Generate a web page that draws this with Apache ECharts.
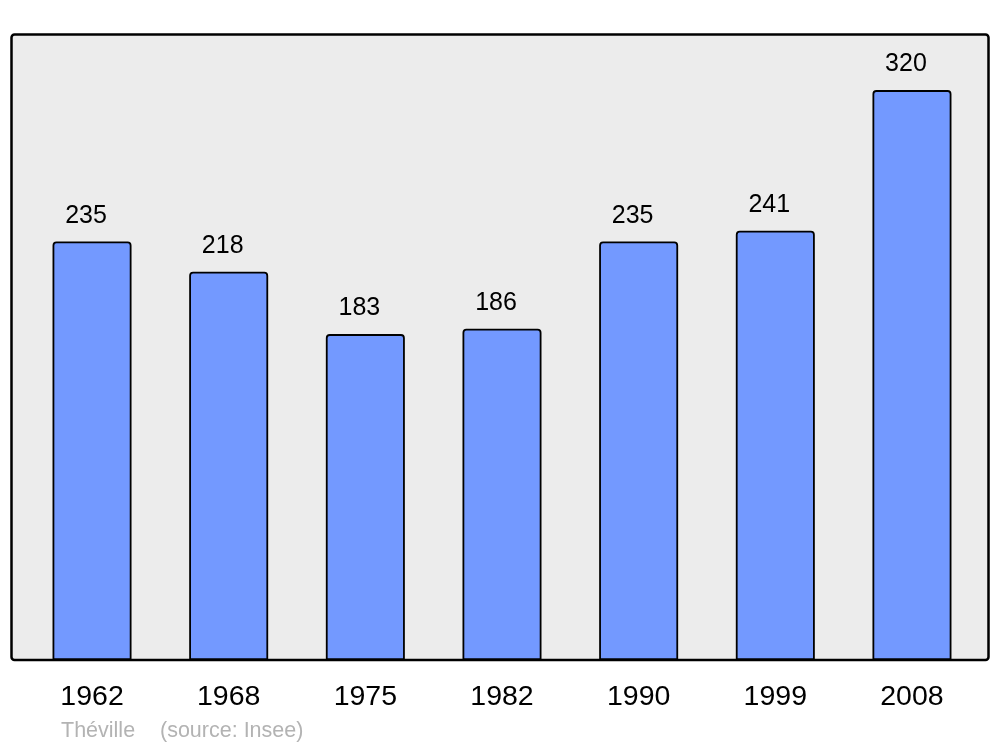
<!DOCTYPE html>
<html>
<head>
<meta charset="utf-8">
<script src="https://cdn.jsdelivr.net/npm/echarts@6/dist/echarts.min.js"></script>
<style>html,body{margin:0;padding:0;background:#fff}#c{width:1000px;height:747px}</style>
</head>
<body>
<div id="c"></div>
<script>
const years = ['1962','1968','1975','1982','1990','1999','2008'];
const population = [235, 218, 183, 186, 235, 241, 320];
const footerPlace = 'Théville';
const footerSource = '(source: Insee)';

const chart = echarts.init(document.getElementById('c'), null, {renderer: 'canvas'});
chart.setOption({
  animation: false,
  backgroundColor: '#ffffff',
  grid: {left: 23.7, right: 19.7, top: 34, bottom: 87, containLabel: false},
  graphic: [
    {type: 'rect', z: -10, shape: {x: 11.5, y: 34.5, width: 977, height: 625.5, r: 3},
     style: {fill: '#ececec', stroke: '#000', lineWidth: 2.5}},
    {type: 'text', left: 61, top: 720, style: {text: footerPlace, fill: '#b3b3b3', font: '21.5px "Liberation Sans", Arial, sans-serif'}},
    {type: 'text', left: 160, top: 720, style: {text: footerSource, fill: '#b3b3b3', font: '21.5px "Liberation Sans", Arial, sans-serif'}}
  ],
  xAxis: {
    type: 'category', data: years,
    axisLine: {show: false}, axisTick: {show: false},
    axisLabel: {color: '#000', fontSize: 28.5, fontFamily: 'Liberation Sans, Arial, sans-serif', margin: 23}
  },
  yAxis: {
    type: 'value', min: 0, max: 351.5, show: false, splitLine: {show: false}
  },
  series: [{
    type: 'bar', data: population, barWidth: 79,
    itemStyle: {color: '#7399ff', borderColor: '#000', borderWidth: 1.8, borderRadius: [3,3,0,0]},
    label: {show: true, position: 'top', distance: 13, offset: [-6, 0], color: '#000', fontSize: 25, fontFamily: 'Liberation Sans, Arial, sans-serif'}
  }]
});
</script>
</body>
</html>
